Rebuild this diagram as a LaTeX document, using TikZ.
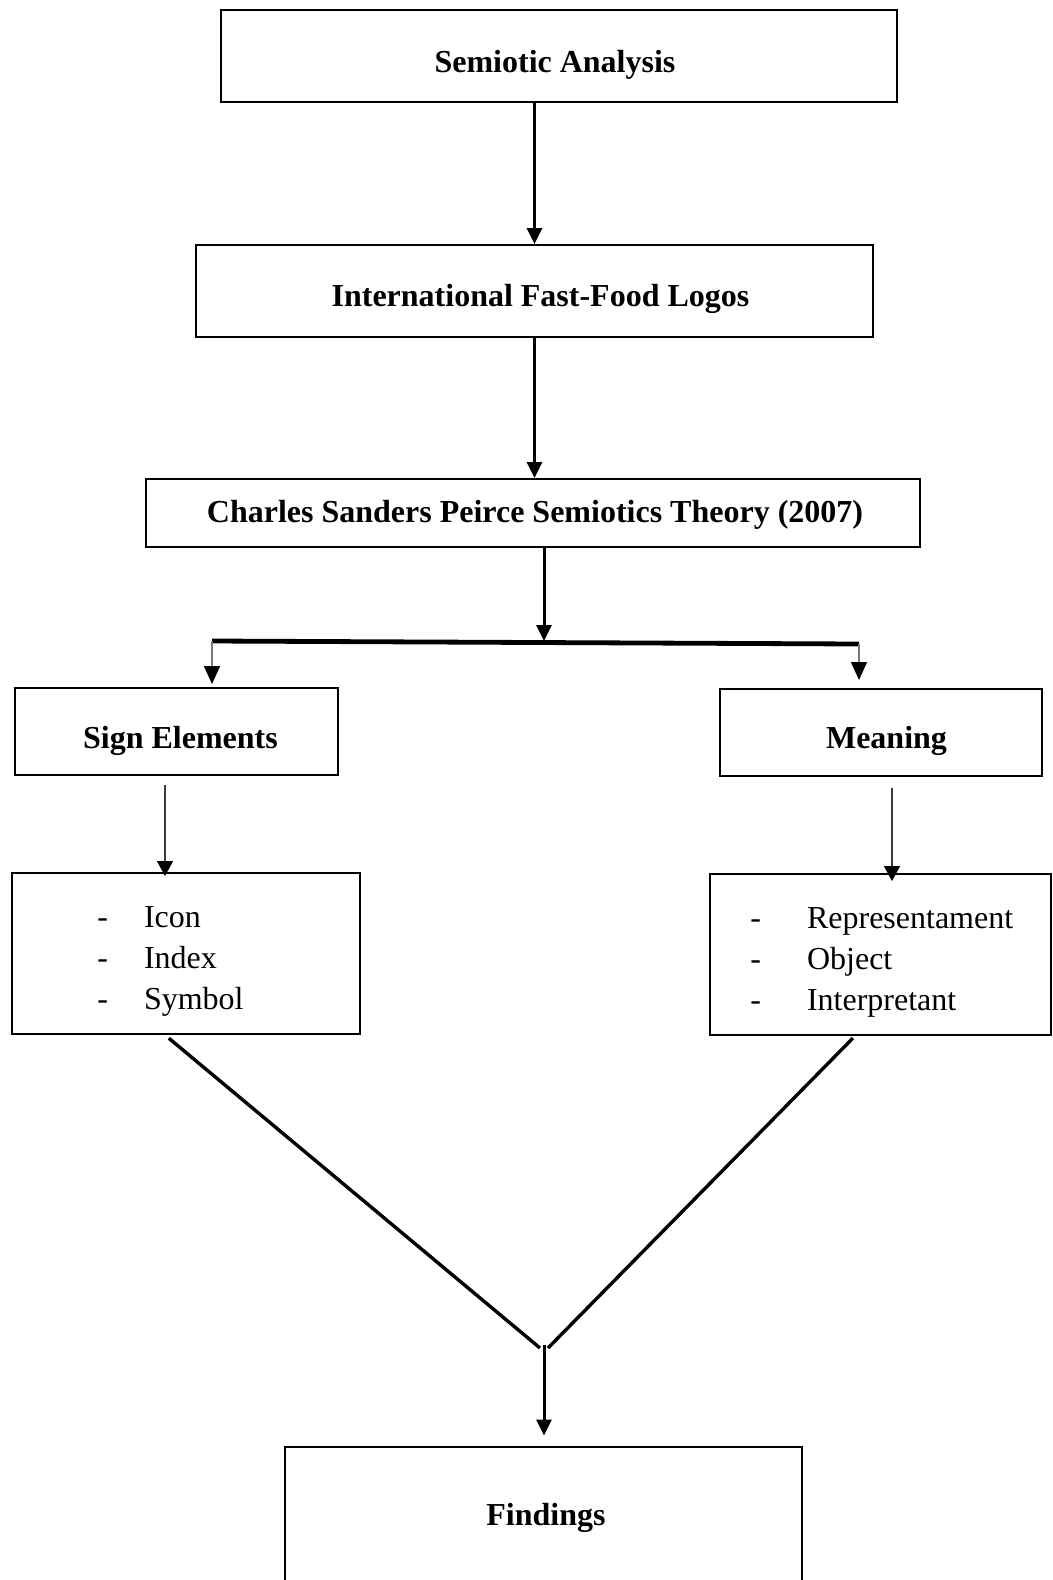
\documentclass[tikz,border=0pt]{standalone}
\usepackage{fontspec}
\setmainfont{Liberation Serif}
\usepackage{tikz}
\usetikzlibrary{arrows.meta, positioning, calc}
\definecolor{dropgray}{RGB}{120,120,120}
\definecolor{thingray}{RGB}{60,60,60}

\begin{document}
\begin{tikzpicture}[
    x=0.5pt, y=-0.5pt,
    part/.style={draw, line width=1pt, inner sep=0pt, font=\fontsize{16}{21}\selectfont\bfseries, align=center},
    textdrop/.style={text height=#1, text depth=0pt},
    items/.style={inner sep=0pt, anchor=west, align=left, font=\fontsize{16}{20.5}\selectfont},
    arrow/.style={-{Triangle[length=8pt, width=7.5pt]}, line width=1.5pt},
    thinarrow/.style={-{Triangle[length=7.5pt, width=8pt, color=black]}, line width=0.7pt, draw=thingray},
    drop/.style={-{Triangle[length=9pt, width=8pt, color=black]}, line width=0.6pt, draw=dropgray},
    link/.style={line width=1.7pt}
]
    \useasboundingbox (0,0) rectangle (1053,1580);

    \node[part, textdrop=16.3pt, minimum width=338pt, minimum height=46pt] (analysis) at (559,56) {\hspace*{-4pt}Semiotic Analysis};
    \node[part, textdrop=15.7pt, minimum width=338.5pt, minimum height=46pt] (logos) at (534.5,291) {\hspace*{6pt}International Fast-Food Logos};
    \node[part, textdrop=9.3pt, minimum width=387pt, minimum height=34pt] (peirce) at (533,513) {\hspace*{2pt}Charles Sanders Peirce Semiotics Theory (2007)};
    \node[part, textdrop=16.8pt, minimum width=161.5pt, minimum height=43.5pt] (signs) at (176.5,731.5) {\hspace*{4pt}Sign Elements};
    \node[part, textdrop=15.8pt, minimum width=161pt, minimum height=43.5pt] (meaning) at (881,732.5) {\hspace*{5.5pt}Meaning};
    \node[part, minimum width=174pt, minimum height=80.5pt] (signlist) at (186,953.5) {};
    \node[part, minimum width=170.5pt, minimum height=80.5pt] (meanlist) at (880.5,954.5) {};
    \node[part, textdrop=9.5pt, minimum width=258.5pt, minimum height=69.5pt] (findings) at (543,1516) {\hspace*{3pt}Findings};

    \node[items] (signitems) at (97,961) {-\hspace{18pt}Icon\\-\hspace{18pt}Index\\-\hspace{18pt}Symbol};
    \node[items] (meanitems) at (750,962.5) {-\hspace{23pt}Representament\\-\hspace{23pt}Object\\-\hspace{23pt}Interpretant};

    \coordinate (split) at (544,641);
    \coordinate (forkleft) at (212,641);
    \coordinate (forkright) at (859,644);
    \coordinate (signdrop) at (165,0);
    \coordinate (meandrop) at (892,0);
    \coordinate (meanfoot) at (855,0);
    \coordinate (meetleft) at (540,1348);
    \coordinate (meetright) at (548,1348);
    \coordinate (merge) at (544,1345);

    \draw[arrow] (analysis.south -| logos.north) -- (logos.north);
    \draw[arrow] (logos.south) -- (logos.south |- peirce.north);
    \draw[arrow] (peirce.south -| split) -- (split);
    \draw[link, line width=2.4pt] (forkleft) -- (forkright);
    \draw[drop, shorten >=1.5pt] (forkleft) -- (forkleft |- signs.north);
    \draw[drop, shorten >=4pt] (forkright) -- (forkright |- meaning.north);
    \draw[thinarrow, shorten <=4.5pt, shorten >=-2pt] (signs.south -| signdrop) -- (signlist.north -| signdrop);
    \draw[thinarrow, shorten <=5.5pt, shorten >=-4pt] (meaning.south -| meandrop) -- (meanlist.north -| meandrop);
    \draw[link, shorten <=2.5pt] (signlist.south -| signdrop) -- (meetleft);
    \draw[link, shorten <=1.5pt] (meanlist.south -| meanfoot) -- (meetright);
    \draw[arrow, shorten >=5pt] (merge) -- (merge |- findings.north);
\end{tikzpicture}
\end{document}
